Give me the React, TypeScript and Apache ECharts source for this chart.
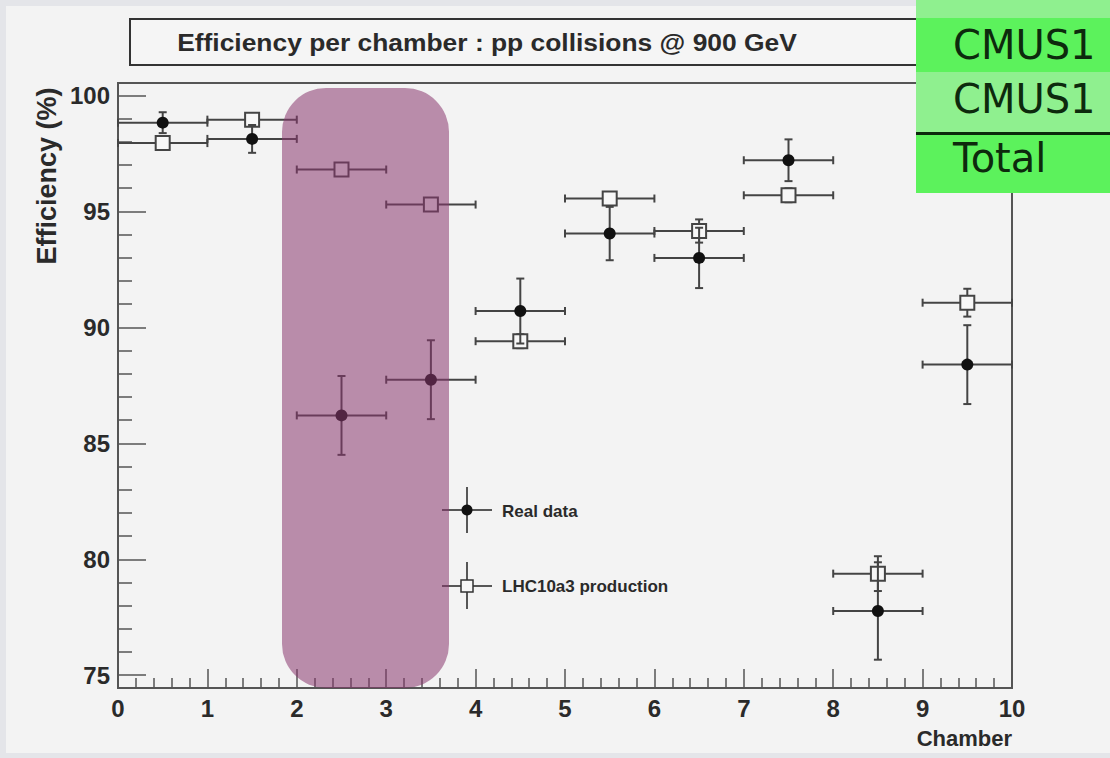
import React, { useEffect, useRef } from "react";
import * as echarts from "echarts";

// ---- data ----
const chambers = [0.5, 1.5, 2.5, 3.5, 4.5, 5.5, 6.5, 7.5, 8.5, 9.5];
const chamberHalfWidth = [0.5, 0.5, 0.5, 0.5, 0.5, 0.5, 0.5, 0.5, 0.5, 0.5];
const realData = [98.82, 98.12, 86.2, 87.74, 90.7, 94.04, 92.99, 97.2, 77.77, 88.39];
const realErr = [0.45, 0.6, 1.7, 1.7, 1.4, 1.15, 1.3, 0.9, 2.1, 1.7];
const mcData = [97.94, 98.95, 96.8, 95.29, 89.4, 95.55, 94.15, 95.69, 79.38, 91.06];
const mcErr = [0.2, 0.15, 0.15, 0.2, 0.3, 0.2, 0.5, 0.3, 0.75, 0.6];
const yMajorTicks = [75, 80, 85, 90, 95, 100];
const yMinorTicks = [76, 77, 78, 79, 81, 82, 83, 84, 86, 87, 88, 89, 91, 92, 93, 94, 96, 97, 98, 99];
const xTickLabels = ["0", "1", "2", "3", "4", "5", "6", "7", "8", "9", "10"];
const titleText = "Efficiency per chamber : pp collisions @ 900 GeV";
const yTitle = "Efficiency (%)";
const xTitle = "Chamber";
const legendNames = ["Real data", "LHC10a3 production"];
const tableRows = ["CMUS1", "CMUS1", "Total"];

const FONT = "'Liberation Sans', Arial, Helvetica, sans-serif";
const INK = "#2a2a2a";
const BAR = "#444";

function makeRender(kind: "circle" | "square") {
  return (params: any, api: any) => {
    const x = api.value(0);
    const y = api.value(1);
    const ey = api.value(2);
    const ex = api.value(3);
    const c = api.coord([x, y]);
    const l = api.coord([x - ex, y]);
    const r = api.coord([x + ex, y]);
    const t = api.coord([x, y + ey]);
    const b = api.coord([x, y - ey]);
    const ls = { stroke: BAR, lineWidth: 2 };
    const children: any[] = [
      { type: "line", shape: { x1: l[0], y1: l[1], x2: r[0], y2: r[1] }, style: ls },
      { type: "line", shape: { x1: t[0], y1: t[1], x2: b[0], y2: b[1] }, style: ls },
      { type: "line", shape: { x1: l[0], y1: l[1] - 4, x2: l[0], y2: l[1] + 4 }, style: ls },
      { type: "line", shape: { x1: r[0], y1: r[1] - 4, x2: r[0], y2: r[1] + 4 }, style: ls },
      { type: "line", shape: { x1: t[0] - 4, y1: t[1], x2: t[0] + 4, y2: t[1] }, style: ls },
      { type: "line", shape: { x1: b[0] - 4, y1: b[1], x2: b[0] + 4, y2: b[1] }, style: ls },
    ];
    if (kind === "circle") {
      children.push({ type: "circle", shape: { cx: c[0], cy: c[1], r: 6 }, style: { fill: "#111" } });
    } else {
      children.push({
        type: "rect",
        shape: { x: c[0] - 7, y: c[1] - 7, width: 14, height: 14 },
        style: { fill: "#f7f7f7", stroke: "#444", lineWidth: 2 },
      });
    }
    return { type: "group", children };
  };
}

export default function App() {
  const ref = useRef<HTMLDivElement>(null);
  useEffect(() => {
    if (!ref.current) return;
    const chart = echarts.init(ref.current, null, { renderer: "svg" });
    const realSeries = chambers.map((c, i) => [c, realData[i], realErr[i], chamberHalfWidth[i]]);
    const mcSeries = chambers.map((c, i) => [c, mcData[i], mcErr[i], chamberHalfWidth[i]]);

    const legendLine = { stroke: "#222", lineWidth: 1.5 };
    const tableY = [45, 99, 158];
    const tableBg = [
      { y: 0, h: 18, c: "#8ff08f" },
      { y: 18, h: 54, c: "#5cf25c" },
      { y: 72, h: 61, c: "#8ff08f" },
      { y: 135, h: 58, c: "#5cf25c" },
    ];

    chart.setOption({
      animation: false,
      backgroundColor: "#f3f3f3",
      grid: {
        left: 118,
        right: 98,
        top: 83,
        bottom: 70,
        show: true,
        backgroundColor: "transparent",
        borderColor: "#555",
        borderWidth: 2,
      },
      xAxis: {
        type: "value",
        min: 0,
        max: 10,
        interval: 1,
        axisLine: { show: false },
        splitLine: { show: false },
        axisTick: { inside: true, length: 19, lineStyle: { color: "#555", width: 1.5 } },
        minorTick: { show: true, splitNumber: 5, length: 10, lineStyle: { color: "#555", width: 1.5 } },
        axisLabel: {
          margin: 8,
          fontFamily: FONT,
          fontWeight: "bold",
          fontSize: 24,
          color: INK,
          formatter: (v: number) => xTickLabels[Math.round(v)] ?? String(v),
        },
      },
      yAxis: [
        {
          type: "value",
          min: 74.45,
          max: 100.53,
          position: "left",
          axisLine: { show: false },
          splitLine: { show: false },
          axisTick: { inside: true, length: 28, customValues: yMajorTicks, lineStyle: { color: "#555", width: 1.5 } },
          axisLabel: {
            customValues: yMajorTicks,
            margin: 8,
            fontFamily: FONT,
            fontWeight: "bold",
            fontSize: 24,
            color: INK,
          },
        },
        {
          type: "value",
          min: 74.45,
          max: 100.53,
          position: "left",
          axisLine: { show: false },
          splitLine: { show: false },
          axisLabel: { show: false },
          axisTick: { inside: true, length: 14, customValues: yMinorTicks, lineStyle: { color: "#555", width: 1.5 } },
        },
      ],
      series: [
        {
          name: legendNames[1],
          type: "custom",
          renderItem: makeRender("square"),
          data: mcSeries,
          encode: { x: 0, y: 1 },
          z: 3,
        },
        {
          name: legendNames[0],
          type: "custom",
          renderItem: makeRender("circle"),
          data: realSeries,
          encode: { x: 0, y: 1 },
          z: 4,
        },
      ],
      graphic: [
        // outer frame strips
        { type: "rect", shape: { x: 0, y: 0, width: 6, height: 758 }, style: { fill: "#e4e5e9" }, z: 1 },
        { type: "rect", shape: { x: 0, y: 0, width: 1110, height: 6 }, style: { fill: "#e4e5e9" }, z: 1 },
        { type: "rect", shape: { x: 0, y: 753, width: 1110, height: 5 }, style: { fill: "#e4e5e9" }, z: 1 },
        // title box
        {
          type: "rect",
          shape: { x: 130, y: 19, width: 800, height: 46 },
          style: { fill: "#f5f5f5", stroke: "#333", lineWidth: 2 },
          z: 10,
        },
        {
          type: "text",
          x: 487,
          y: 42,
          scaleX: 1.1,
          style: {
            text: titleText,
            fontFamily: FONT,
            fontWeight: "bold",
            fontSize: 24,
            fill: INK,
            textAlign: "center",
            textVerticalAlign: "middle",
          },
          z: 11,
        },
        // axis titles
        {
          type: "text",
          x: 47,
          y: 176,
          rotation: Math.PI / 2,
          style: {
            text: yTitle,
            fontFamily: FONT,
            fontWeight: "bold",
            fontSize: 27,
            fill: INK,
            textAlign: "center",
            textVerticalAlign: "middle",
          },
          z: 10,
        },
        {
          type: "text",
          x: 1012,
          y: 738,
          style: {
            text: xTitle,
            fontFamily: FONT,
            fontWeight: "bold",
            fontSize: 22,
            fill: INK,
            textAlign: "right",
            textVerticalAlign: "middle",
          },
          z: 10,
        },
        // legend
        { type: "line", shape: { x1: 442, y1: 510, x2: 492, y2: 510 }, style: legendLine, z: 10 },
        { type: "line", shape: { x1: 467, y1: 487, x2: 467, y2: 533 }, style: legendLine, z: 10 },
        { type: "circle", shape: { cx: 467, cy: 510, r: 5.5 }, style: { fill: "#111" }, z: 10 },
        {
          type: "text",
          x: 502,
          y: 511,
          style: { text: legendNames[0], fontFamily: FONT, fontWeight: "bold", fontSize: 17, fill: INK, textVerticalAlign: "middle" },
          z: 10,
        },
        { type: "line", shape: { x1: 442, y1: 586, x2: 492, y2: 586 }, style: legendLine, z: 10 },
        { type: "line", shape: { x1: 467, y1: 562, x2: 467, y2: 609 }, style: legendLine, z: 10 },
        {
          type: "rect",
          shape: { x: 461, y: 580, width: 12, height: 12 },
          style: { fill: "#f7f7f7", stroke: "#333", lineWidth: 1.5 },
          z: 10,
        },
        {
          type: "text",
          x: 502,
          y: 586,
          style: { text: legendNames[1], fontFamily: FONT, fontWeight: "bold", fontSize: 17, fill: INK, textVerticalAlign: "middle" },
          z: 10,
        },
        // purple highlight
        {
          type: "rect",
          shape: { x: 282, y: 88, width: 167, height: 600, r: 44 },
          style: { fill: "rgba(136,55,109,0.55)" },
          z: 50,
        },
        // green table (cropped)
        ...tableBg.map((row) => ({
          type: "rect",
          shape: { x: 916, y: row.y, width: 200, height: row.h },
          style: { fill: row.c },
          z: 60,
        })),
        { type: "rect", shape: { x: 916, y: 132, width: 200, height: 3 }, style: { fill: "#0d2a0d" }, z: 61 },
        ...tableRows.map((t, i) => ({
          type: "text",
          x: 953,
          y: tableY[i],
          style: {
            text: t,
            fontFamily: "'DejaVu Sans', sans-serif",
            fontSize: 40,
            fill: "#0d2a0d",
            textVerticalAlign: "middle",
          },
          z: 62,
        })),
      ],
    });
    return () => chart.dispose();
  }, []);
  return (
    <div
      ref={ref}
      style={{ position: "fixed", left: 0, top: 0, width: 1110, height: 758 }}
    />
  );
}
